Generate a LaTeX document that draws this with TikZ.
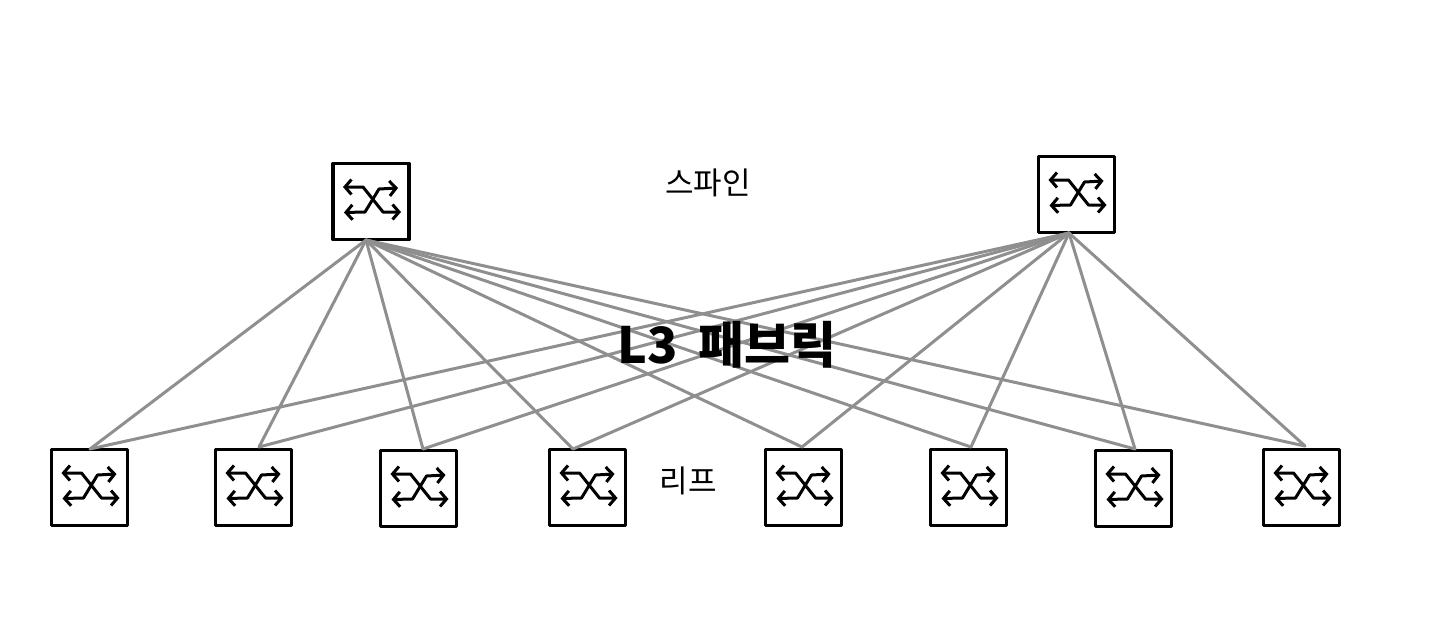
\documentclass[tikz,border=0pt]{standalone}
\usepackage{fontspec}
\setmainfont{Noto Sans CJK KR}
\usetikzlibrary{arrows.meta,calc}
\definecolor{linkgray}{HTML}{8F8F8F}
\tikzset{
  x=1pt,y=-1pt,
  switchbox/.style={draw=black,line width=3.6pt,minimum width=76pt,minimum height=76pt,inner sep=0pt,fill=white,line join=round},
  iconline/.style={draw=black,line width=3pt,line join=round,line cap=round},
  iconarrow/.style={iconline,{Straight Barb[length=6.5pt,width=15pt]}-{Straight Barb[length=6.5pt,width=15pt]}},
  link/.style={draw=linkgray,line width=3pt,line cap=round},
  thinlabel/.style={inner sep=0pt,font=\fontsize{31}{33}\selectfont,text=black},
  fabriclabel/.style={inner sep=0pt,font=\fontsize{50}{54}\selectfont\bfseries,text=black},
}
% name, centre x, centre y, x-position of the link end, y-position of the link end
\newcommand{\switchnode}[5]{%
  \node[switchbox] (#1) at (#2,#3) {};
  \coordinate (#1port) at (#4,#5);
  \draw[iconarrow] ($(#1)+(-28,-14.5)$) -- ($(#1)+(-8,-14.5)$) -- ($(#1)+(12,10.5)$) -- ($(#1)+(30,10.5)$);
  \draw[iconarrow] ($(#1)+(-27,11)$) -- ($(#1)+(-6,10.5)$) -- ($(#1)+(8,-12.5)$) -- ($(#1)+(27,-13.5)$);
}
\begin{document}
\begin{tikzpicture}
\useasboundingbox (0,0) rectangle (1440,635);
\fill[white] (0,0) rectangle (1440,635);
\switchnode{sa}{371}{201.5}{366}{240}
\switchnode{sb}{1076.5}{194.5}{1069}{233}
\switchnode{la}{89.5}{487.5}{90}{449}
\switchnode{lb}{253.5}{487.5}{259}{447}
\switchnode{lc}{418.5}{488.5}{423}{449}
\switchnode{ld}{587.5}{487.5}{573}{449}
\switchnode{le}{803.5}{487.5}{802}{447}
\switchnode{lf}{968.5}{487.5}{971}{447}
\switchnode{lg}{1133.5}{488.5}{1135}{449}
\switchnode{lh}{1301.5}{487.5}{1305}{446}
\foreach \leaf in {la,lb,lc,ld,le,lf,lg,lh}{
  \draw[link] (saport) -- (\leaf port);
  \draw[link] (sbport) -- (\leaf port);
}
\node[thinlabel] (spine) at (708,183) {스파인};
\node[thinlabel] (leaf) at (688,481) {리프};
\node[fabriclabel] (fabric) at (727,345) {L3\hspace{20pt}패브릭};
\end{tikzpicture}
\end{document}
